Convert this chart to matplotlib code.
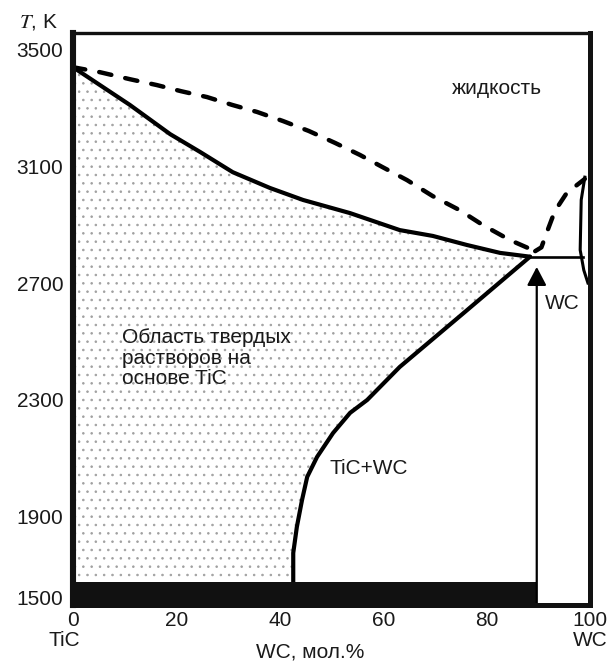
import numpy as np
import matplotlib
matplotlib.use('Agg')
import matplotlib.pyplot as plt
from matplotlib.patches import Polygon

plt.rcParams['font.family'] = ['Liberation Sans', 'DejaVu Sans']
plt.rcParams['mathtext.fontset'] = 'stix'
plt.rcParams['hatch.linewidth'] = 0.6

# ---------------- data ----------------
x_ticks = [0, 20, 40, 60, 80, 100]
y_ticks = [1500, 1900, 2300, 2700, 3100, 3500]

# upper boundary of the TiC-based solid solution (solid line)
solidus_x = [0, 5.2, 11.0, 18.8, 24.6, 30.9, 38.1, 44.5, 53.6, 63.2, 69.6, 76.2, 82.6, 88.4]
solidus_T = [3438, 3377, 3309, 3209, 3148, 3079, 3025, 2984, 2939, 2881, 2861, 2830, 2803, 2790]

# liquidus, TiC side (dashed)
liquidus_x = [0, 5.2, 11.0, 16.2, 20.9, 25.9, 30.8, 35.6, 40.6, 45.6, 50.7, 55.5,
              59.8, 64.6, 69.6, 74.7, 79.3, 84.5, 89.4]
liquidus_T = [3438, 3421, 3397, 3377, 3356, 3336, 3309, 3285, 3254, 3220, 3179, 3138,
              3097, 3052, 2997, 2950, 2898, 2847, 2809]

# liquidus, WC side (dashed)
liquidus_wc_x = [89.4, 90.6, 91.9, 93.2, 95.5, 99.0]
liquidus_wc_T = [2809, 2822, 2885, 2946, 3008, 3056]

# solvus of the solid solution (solid line)
solvus_x = [88.4, 75.8, 63.2, 56.9, 53.6, 50.3, 47.2, 45.3, 44.3, 43.3, 42.6, 42.6]
solvus_T = [2790, 2601, 2413, 2300, 2256, 2187, 2105, 2037, 1958, 1851, 1722, 1579]

# eutectic horizontal
eutectic_x = [88.4, 98.6]
eutectic_T = [2790, 2790]

# solid line near pure WC
wc_edge_x = [99.0, 98.3, 98.1, 98.8, 99.6]
wc_edge_T = [3062, 2984, 2813, 2744, 2700]

# WC arrow and the dark band at the bottom
wc_line_x = 89.7
wc_arrow_T = [1465, 2755]
band_top_T = 1579

# ---------------- figure ----------------
W, H = 615, 662
fig = plt.figure(figsize=(W / 100, H / 100), dpi=100)
ax = fig.add_axes([73 / W, 1 - 605 / H, 517 / W, 572 / H])

r = 0.2025 / 0.2925


def fwd(T):
    T = np.asarray(T, float)
    return np.where(T >= 1900, T, 1900 - (1900 - T) * r)


def inv(u):
    u = np.asarray(u, float)
    return np.where(u >= 1900, u, 1900 - (1900 - u) / r)


ax.set_yscale('function', functions=(fwd, inv))
ax.set_xlim(0, 100)
ax.set_ylim(1465, 3555)

# stippled solid-solution region
poly_x = list(solidus_x) + list(solvus_x[1:]) + [0]
poly_T = list(solidus_T) + list(solvus_T[1:]) + [band_top_T]
stip = Polygon(np.column_stack([poly_x, poly_T]), closed=True, facecolor='none',
               edgecolor='#a0a0a0', hatch='..', linewidth=0, zorder=1)
ax.add_patch(stip)

lw_main = 3.0
ax.plot(solidus_x, solidus_T, color='black', lw=lw_main, solid_capstyle='round', zorder=3)
ax.plot(solvus_x, solvus_T, color='black', lw=lw_main, solid_capstyle='round', zorder=3)
ax.plot(liquidus_x, liquidus_T, color='black', lw=3.2, ls=(0, (2.8, 3.2)),
        dash_capstyle='round', zorder=3)
ax.plot(liquidus_wc_x, liquidus_wc_T, color='black', lw=3.2, ls=(0, (2.8, 3.2)),
        dash_capstyle='round', zorder=3)
ax.plot(eutectic_x, eutectic_T, color='black', lw=1.9, zorder=3)
ax.plot(wc_edge_x, wc_edge_T, color='black', lw=2.2, zorder=3)

# bottom dark band
ax.fill_between([0, wc_line_x], 1400, band_top_T, color='#111111', lw=0, zorder=4)

# WC arrow
ax.annotate('', xy=(wc_line_x, wc_arrow_T[1]), xytext=(wc_line_x, wc_arrow_T[0]),
            arrowprops=dict(arrowstyle='-|>,head_length=0.8,head_width=0.42',
                            mutation_scale=14, color='black', lw=1.6,
                            shrinkA=0, shrinkB=0), zorder=5)

# spines
for side, lw in (('left', 4.4), ('right', 3.6), ('top', 2.4), ('bottom', 3.6)):
    ax.spines[side].set_linewidth(lw)
    ax.spines[side].set_color('#111111')
    ax.spines[side].set_zorder(6)

ax.set_xticks(x_ticks)
ax.set_yticks(y_ticks)
ax.set_xticklabels([str(v) for v in x_ticks])
ax.set_yticklabels([str(v) for v in y_ticks])
ax.yaxis.set_minor_locator(matplotlib.ticker.NullLocator())
ax.tick_params(length=0, labelsize=15, colors='#1a1a1a')
ax.tick_params(axis='y', pad=7)
ax.tick_params(axis='x', pad=4)

fs = 15
fig.text(38 / W, 1 - 22 / H, r'$T$, K', fontsize=fs, ha='center', va='center', color='#1a1a1a')
fig.text(64 / W, 1 - 641 / H, 'TiC', fontsize=fs, ha='center', va='center', color='#1a1a1a')
fig.text(590 / W, 1 - 641 / H, 'WC', fontsize=fs, ha='center', va='center', color='#1a1a1a')
fig.text(310 / W, 1 - 652 / H, 'WC, мол.%', fontsize=fs, ha='center', va='center', color='#1a1a1a')

fig.text(497 / W, 1 - 89 / H, 'жидкость', fontsize=fs, ha='center', va='center', color='#1a1a1a')
fig.text(122 / W, 1 - 358 / H, 'Область твердых\nрастворов на\nоснове TiC', fontsize=fs,
         ha='left', va='center', linespacing=1.1, color='#1a1a1a')
fig.text(369 / W, 1 - 469 / H, 'TiC+WC', fontsize=fs, ha='center', va='center', color='#1a1a1a')
fig.text(562 / W, 1 - 304 / H, 'WC', fontsize=fs, ha='center', va='center', color='#1a1a1a')

fig.savefig('out.png', dpi=100)
